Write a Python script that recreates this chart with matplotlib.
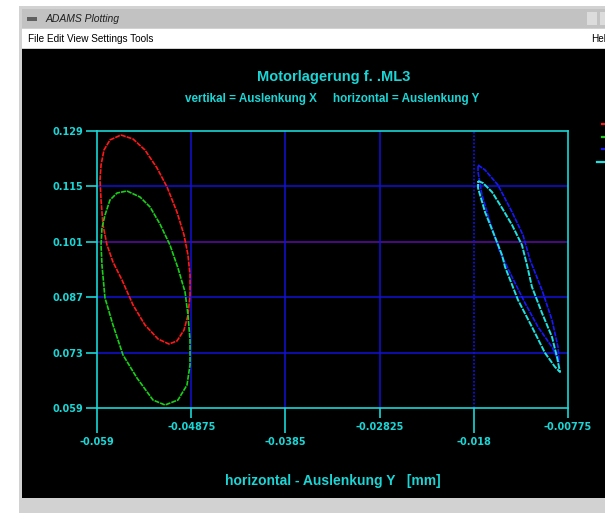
import matplotlib
matplotlib.use("Agg")
import matplotlib.pyplot as plt
from matplotlib.patches import Rectangle
from matplotlib.lines import Line2D

W, H = 605, 513
# ---- data (mm) ----
x_ticks_long = [-0.059, -0.0385, -0.018]
x_ticks_short = [-0.04875, -0.02825, -0.00775]
x_tick_labels_long = ["-0.059", "-0.0385", "-0.018"]
x_tick_labels_short = ["-0.04875", "-0.02825", "-0.00775"]
y_ticks = [0.059, 0.073, 0.087, 0.101, 0.115, 0.129]
y_tick_labels = ["0.059", "0.073", "0.087", "0.101", "0.115", "0.129"]

red_x = [-0.05639, -0.05508, -0.05378, -0.05247, -0.05138, -0.05030, -0.04953, -0.04910,
         -0.04888, -0.04888, -0.04910, -0.04953, -0.05030, -0.05117, -0.05236, -0.05378,
         -0.05508, -0.05628, -0.05726, -0.05791, -0.05835, -0.05856, -0.05867, -0.05856,
         -0.05824, -0.05759, -0.05639]
red_y = [0.12799, 0.12698, 0.12420, 0.11965, 0.11485, 0.10853, 0.10272, 0.09766,
         0.09261, 0.08756, 0.08250, 0.07871, 0.07593, 0.07517, 0.07644, 0.07998,
         0.08503, 0.09135, 0.09590, 0.10019, 0.10525, 0.11156, 0.11662, 0.12041,
         0.12420, 0.12673, 0.12799]
green_x = [-0.05574, -0.05432, -0.05323, -0.05215, -0.05106, -0.05019, -0.04942, -0.04910,
           -0.04888, -0.04888, -0.04921, -0.05019, -0.05160, -0.05291, -0.05465, -0.05617,
           -0.05726, -0.05813, -0.05846, -0.05856, -0.05846, -0.05813, -0.05759, -0.05682,
           -0.05574]
green_y = [0.11384, 0.11232, 0.10980, 0.10550, 0.10019, 0.09438, 0.08831, 0.08250,
           0.07618, 0.06987, 0.06481, 0.06102, 0.05976, 0.06102, 0.06658, 0.07239,
           0.07998, 0.08680, 0.09514, 0.10019, 0.10449, 0.10777, 0.11156, 0.11333,
           0.11384]
blue_x = [-0.01754, -0.01678, -0.01537, -0.01384, -0.01265, -0.01188, -0.01058, -0.00949,
          -0.00884, -0.00873, -0.00949, -0.01101, -0.01243, -0.01384, -0.01515, -0.01624,
          -0.01711, -0.01754, -0.01754]
blue_y = [0.12041, 0.11915, 0.11535, 0.10853, 0.10272, 0.09640, 0.08882, 0.08124,
          0.07442, 0.07063, 0.07442, 0.07947, 0.08554, 0.09211, 0.09842, 0.10600,
          0.11283, 0.11864, 0.12041]
cyan_x = [-0.01754, -0.01700, -0.01602, -0.01493, -0.01384, -0.01276, -0.01221, -0.01167,
          -0.01058, -0.00949, -0.00895, -0.00862, -0.00916, -0.01025, -0.01167, -0.01319,
          -0.01460, -0.01493, -0.01591, -0.01678, -0.01754, -0.01754]
cyan_y = [0.11637, 0.11586, 0.11359, 0.10954, 0.10525, 0.10019, 0.09514, 0.08958,
          0.08301, 0.07694, 0.07189, 0.06810, 0.06936, 0.07290, 0.07947, 0.08629,
          0.09463, 0.09766, 0.10348, 0.10853, 0.11460, 0.11637]

CYAN = "#1ad6d6"
GRID_BLUE = "#1212d8"
GRID_PURPLE = "#5e0ca6"

fig = plt.figure(figsize=(W / 100, H / 100), dpi=100)
fig.patch.set_facecolor("white")

def rect(x0, y0, x1, y1, color, z=0):
    fig.add_artist(Rectangle((x0 / W, 1 - y1 / H), (x1 - x0) / W, (y1 - y0) / H,
                             transform=fig.transFigure, facecolor=color,
                             edgecolor="none", zorder=z))

def ftext(x, y, s, **kw):
    fig.text(x / W, 1 - y / H, s, **kw)

# window chrome
rect(19, 6, 605, 513, "#d2d2d2", -5)
rect(22, 9, 605, 28, "#c2c2c2", -4)
rect(22, 29, 605, 48, "#ffffff", -4)
rect(22, 49, 605, 498, "#000000", -4)
rect(27, 17, 37, 21, "#606060", -3)
rect(587, 12, 597, 25, "#dcdcdc", -3)
rect(600, 12, 605, 25, "#dcdcdc", -3)
ftext(46, 19, "ADAMS Plotting", fontsize=7.5, style="italic", color="#202020",
      family="Liberation Sans", va="center", ha="left")
ftext(28, 39, "File Edit View Settings Tools", fontsize=7.2, color="black",
      family="Liberation Sans", va="center", ha="left")
ftext(591, 39, "Help", fontsize=7.2, color="black", family="Liberation Sans",
      va="center", ha="left", clip_on=True)

# titles
ftext(334, 77, "Motorlagerung f. .ML3", fontsize=10.5, weight="bold", color=CYAN,
      family="Liberation Sans", ha="center", va="center")
ftext(251, 99, "vertikal = Auslenkung X", fontsize=8.4, weight="bold", color=CYAN,
      family="Liberation Sans", ha="center", va="center")
ftext(406, 99, "horizontal = Auslenkung Y", fontsize=8.4, weight="bold", color=CYAN,
      family="Liberation Sans", ha="center", va="center")

# main axes
L, R, T, B = 97, 568, 131, 408
ax = fig.add_axes([L / W, 1 - B / H, (R - L) / W, (B - T) / H])
ax.set_facecolor("black")
ax.set_xlim(-0.059, -0.00775)
ax.set_ylim(0.059, 0.129)
for s in ax.spines.values():
    s.set_color(CYAN)
    s.set_linewidth(1.2)

# grid lines
for yv in y_ticks[1:-1]:
    ax.axhline(yv, color=GRID_PURPLE if abs(yv - 0.101) < 1e-9 else GRID_BLUE,
               lw=1.1, zorder=1)
for xv in [-0.04875, -0.0385, -0.02825]:
    ax.axvline(xv, color=GRID_BLUE, lw=1.1, zorder=1)
ax.axvline(-0.018, color=GRID_BLUE, lw=1.3, ls=(0, (1, 1)), zorder=1)

# curves
ax.plot(red_x, red_y, color="#ff1818", lw=1.2, ls=(0, (3, 0.6)), zorder=3)
ax.plot(green_x, green_y, color="#18d018", lw=1.2, ls=(0, (3, 0.6)), zorder=3)
ax.plot(blue_x, blue_y, color="#1818ff", lw=1.2, ls=(0, (3, 0.6)), zorder=3)
ax.plot(cyan_x, cyan_y, color="#20e0e0", lw=1.4, ls=(0, (3, 0.6)), zorder=3)

# ticks
ax.set_yticks(y_ticks)
ax.set_yticklabels(y_tick_labels)
ax.set_xticks(x_ticks_long)
ax.set_xticklabels(x_tick_labels_long)
ax.set_xticks(x_ticks_short, minor=True)
ax.set_xticklabels(x_tick_labels_short, minor=True)
ax.tick_params(axis="y", direction="out", length=8, width=1.2, color=CYAN,
               labelcolor=CYAN, labelsize=7, pad=2)
ax.tick_params(axis="x", which="major", direction="out", length=18, width=1.2,
               color=CYAN, labelcolor=CYAN, labelsize=7, pad=3)
ax.tick_params(axis="x", which="minor", direction="out", length=7, width=1.2,
               color=CYAN, labelcolor=CYAN, labelsize=7, pad=3)
for lab in ax.get_xticklabels(which="both") + ax.get_yticklabels():
    lab.set_family("DejaVu Sans")
    lab.set_weight("bold")

ax.set_xlabel("horizontal - Auslenkung Y   [mm]", color=CYAN, fontsize=10,
              weight="bold", family="Liberation Sans", labelpad=19)

# legend marks (cut off at right edge)
leg_colors = ["#ff1818", "#18d018", "#1818ff", "#20e0e0"]
leg_y = [124, 137, 149, 162]
leg_x0 = [602, 602, 602, 597]
for c, yy, x0 in zip(leg_colors, leg_y, leg_x0):
    fig.add_artist(Line2D([x0 / W, 1.02], [1 - yy / H, 1 - yy / H], color=c,
                          lw=1.6, transform=fig.transFigure))

fig.savefig("out.png", dpi=100, facecolor=fig.get_facecolor())
